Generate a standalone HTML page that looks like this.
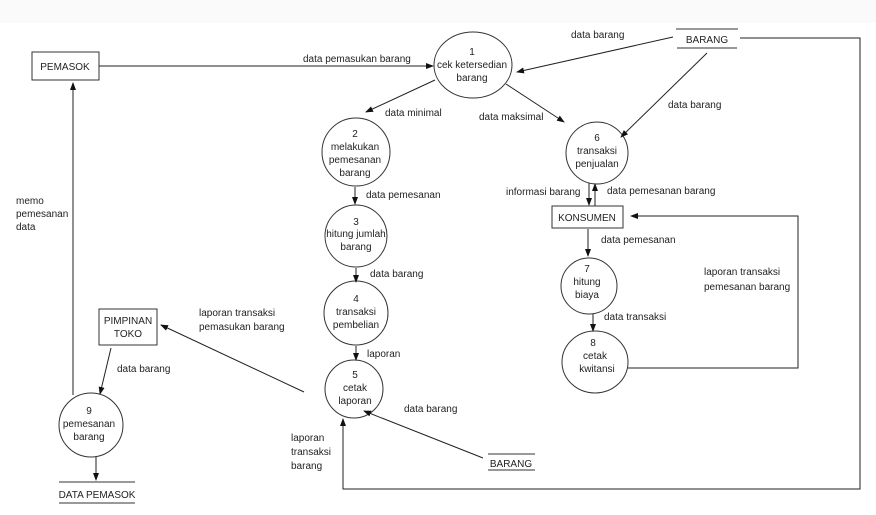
<!DOCTYPE html>
<html><head><meta charset="utf-8"><style>
html,body{margin:0;padding:0;background:#fff}
svg{display:block}
text{font-family:"Liberation Sans",sans-serif;font-size:10px;fill:#222}
</style></head><body>
<svg width="876" height="515" viewBox="0 0 876 515" xmlns="http://www.w3.org/2000/svg">
<defs><marker id="a" markerWidth="8" markerHeight="8" refX="7" refY="4" orient="auto" markerUnits="userSpaceOnUse"><path d="M0,1 L8,4 L0,7 z" fill="#111"/></marker></defs>
<rect x="0" y="0" width="876" height="23" fill="#fafafa"/>
<g fill="none" stroke="#333" stroke-width="1">
<rect x="32" y="52" width="67" height="28"/>
<rect x="552" y="206" width="71" height="22"/>
<rect x="99" y="309" width="58" height="36"/>
<ellipse cx="473" cy="65" rx="39" ry="33"/>
<circle cx="356" cy="152" r="34"/>
<circle cx="356" cy="236" r="31"/>
<circle cx="356" cy="313" r="32"/>
<circle cx="354" cy="389" r="29"/>
<circle cx="597" cy="153" r="31"/>
<circle cx="589" cy="286" r="28"/>
<ellipse cx="595" cy="362" rx="33" ry="31"/>
<circle cx="91" cy="425" r="32"/>
<line x1="676" y1="29" x2="738" y2="29"/><line x1="677" y1="48" x2="737" y2="48"/>
<line x1="488" y1="454" x2="535" y2="454"/><line x1="488" y1="470" x2="535" y2="470"/>
<line x1="59" y1="482" x2="135" y2="482"/><line x1="59" y1="503" x2="135" y2="503"/>
</g>
<g fill="none" stroke="#222" stroke-width="1" marker-end="url(#a)">
<line x1="99" y1="66" x2="433" y2="66"/>
<line x1="673" y1="37" x2="517" y2="72"/>
<line x1="707" y1="53" x2="621" y2="137"/>
<line x1="506" y1="84" x2="564" y2="122"/>
<line x1="435" y1="80" x2="366" y2="112"/>
<line x1="355" y1="187" x2="355" y2="204"/>
<line x1="356" y1="268" x2="356" y2="282"/>
<line x1="356" y1="346" x2="356" y2="360"/>
<line x1="589" y1="183" x2="589" y2="205"/>
<line x1="595" y1="206" x2="595" y2="184"/>
<line x1="588" y1="229" x2="588" y2="256"/>
<line x1="593" y1="314" x2="593" y2="331"/>
<polyline points="628,368 798,368 798,216 631,216"/>
<polyline points="740,38 860,38 860,489 343,489 343,419"/>
<line x1="483" y1="458" x2="364" y2="411"/>
<line x1="304" y1="392" x2="161" y2="325"/>
<line x1="111" y1="348" x2="100" y2="394"/>
<line x1="73" y1="395" x2="73" y2="83"/>
<line x1="96" y1="457" x2="96" y2="480"/>
</g>
<g text-anchor="middle">
<text x="65" y="70">PEMASOK</text>
<text x="587" y="221">KONSUMEN</text>
<text x="128" y="324">PIMPINAN</text><text x="128" y="337">TOKO</text>
<text x="707" y="43">BARANG</text>
<text x="511" y="467">BARANG</text>
<text x="97" y="498">DATA PEMASOK</text>
<text x="472" y="55">1</text><text x="472" y="68">cek ketersedian</text><text x="472" y="81">barang</text>
<text x="355" y="137">2</text><text x="355" y="150">melakukan</text><text x="355" y="163">pemesanan</text><text x="355" y="176">barang</text>
<text x="356" y="225">3</text><text x="356" y="237">hitung jumlah</text><text x="356" y="250">barang</text>
<text x="356" y="302">4</text><text x="356" y="315">transaksi</text><text x="356" y="328">pembelian</text>
<text x="355" y="378">5</text><text x="355" y="391">cetak</text><text x="355" y="404">laporan</text>
<text x="597" y="141">6</text><text x="597" y="154">transaksi</text><text x="597" y="167">penjualan</text>
<text x="587" y="272">7</text><text x="587" y="285">hitung</text><text x="587" y="298">biaya</text>
<text x="593" y="346">8</text><text x="595" y="359">cetak</text><text x="597" y="372">kwitansi</text>
<text x="89" y="414">9</text><text x="89" y="427">pemesanan</text><text x="89" y="440">barang</text>
</g>
<text x="303" y="62">data pemasukan barang</text>
<text x="571" y="38">data barang</text>
<text x="668" y="108">data barang</text>
<text x="385" y="116">data minimal</text>
<text x="479" y="120">data maksimal</text>
<text x="366" y="198">data pemesanan</text>
<text x="370" y="277">data barang</text>
<text x="367" y="357">laporan</text>
<text x="506" y="195">informasi barang</text>
<text x="607" y="194">data pemesanan barang</text>
<text x="601" y="243">data pemesanan</text>
<text x="604" y="320">data transaksi</text>
<text x="704" y="275">laporan transaksi</text>
<text x="704" y="290">pemesanan barang</text>
<text x="404" y="412">data barang</text>
<text x="291" y="441">laporan</text><text x="291" y="455">transaksi</text><text x="291" y="469">barang</text>
<text x="199" y="316">laporan transaksi</text><text x="199" y="330">pemasukan barang</text>
<text x="117" y="372">data barang</text>
<text x="16" y="204">memo</text><text x="16" y="217">pemesanan</text><text x="16" y="230">data</text>
</svg>
</body></html>
